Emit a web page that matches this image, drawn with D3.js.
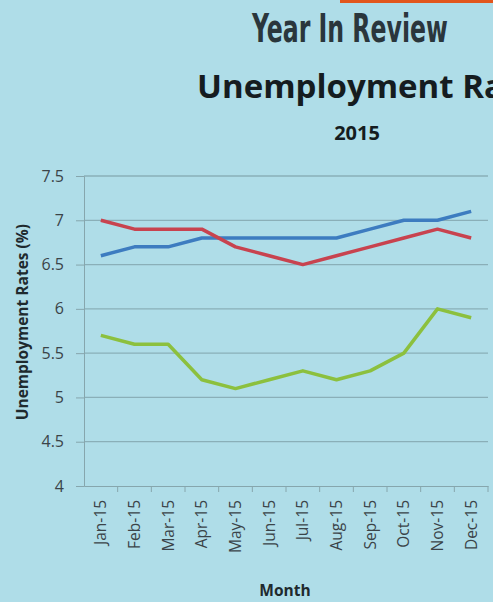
<!DOCTYPE html>
<html>
<head>
<meta charset="utf-8">
<script src="https://cdn.jsdelivr.net/npm/d3@7"></script>
<style>
  html, body { margin: 0; padding: 0; background: #afdde8; overflow: hidden; }
  svg { display: block; }
  .grid line { stroke: #8aafb8; stroke-width: 1.3; }
  .axis path, .axis line { stroke: #86a6ad; }
  .axis text { fill: #3b4448; font-family: "Open Sans", Lato, sans-serif; }
</style>
</head>
<body>
<div id="chart"></div>
<script>
'use strict';

const months = ['Jan-15', 'Feb-15', 'Mar-15', 'Apr-15', 'May-15', 'Jun-15',
  'Jul-15', 'Aug-15', 'Sep-15', 'Oct-15', 'Nov-15', 'Dec-15'];
const redSeries = [7.0, 6.9, 6.9, 6.9, 6.7, 6.6, 6.5, 6.6, 6.7, 6.8, 6.9, 6.8];
const blueSeries = [6.6, 6.7, 6.7, 6.8, 6.8, 6.8, 6.8, 6.8, 6.9, 7.0, 7.0, 7.1];
const greenSeries = [5.7, 5.6, 5.6, 5.2, 5.1, 5.2, 5.3, 5.2, 5.3, 5.5, 6.0, 5.9];
const yTicks = [4, 4.5, 5, 5.5, 6, 6.5, 7, 7.5];

const width = 493;
const height = 602;
const margin = {top: 176, right: 5, bottom: 116, left: 84};
const plotW = width - margin.left - margin.right;
const plotH = height - margin.top - margin.bottom;

const svg = d3.select('#chart').append('svg')
  .attr('width', width)
  .attr('height', height);

svg.append('rect')
  .attr('width', width).attr('height', height)
  .attr('fill', '#afdde8');

// orange accent strip at the very top
svg.append('rect')
  .attr('x', 340).attr('y', 0)
  .attr('width', width - 340).attr('height', 3)
  .attr('fill', '#e2561d');

// condensed headline: squeeze a narrow font horizontally to the slide's width
const kicker = svg.append('text')
  .style('font-family', '"Liberation Sans Narrow", "DejaVu Sans Condensed", sans-serif')
  .style('font-weight', 'bold')
  .style('font-size', '39px')
  .style('fill', '#2a363c')
  .text('Year In Review');
const kickerScale = 196 / kicker.node().getComputedTextLength();
kicker.attr('transform', 'translate(252,42) scale(' + kickerScale + ',1)');

// the heading runs off the right edge, as in the source slide
svg.append('text')
  .attr('x', 197).attr('y', 98)
  .style('font-family', '"Open Sans", Lato, sans-serif')
  .style('font-weight', 'bold')
  .style('font-size', '33px')
  .style('fill', '#151c20')
  .text('Unemployment Rates');

svg.append('text')
  .attr('x', 357).attr('y', 140)
  .style('font-family', '"Open Sans", Lato, sans-serif')
  .style('font-weight', 'bold')
  .style('font-size', '20px')
  .style('text-anchor', 'middle')
  .style('fill', '#151c20')
  .text('2015');

const g = svg.append('g')
  .attr('transform', 'translate(' + margin.left + ',' + margin.top + ')');

const xScale = d3.scaleBand()
  .domain(months)
  .range([0, plotW]);

const yScale = d3.scaleLinear()
  .domain([4, 7.5])
  .range([plotH, 0]);

g.append('g')
  .attr('class', 'grid')
  .selectAll('line')
  .data(yTicks.filter(d => d > 4))
  .enter()
  .append('line')
  .attr('x1', 0)
  .attr('x2', plotW)
  .attr('y1', d => yScale(d))
  .attr('y2', d => yScale(d));

const yAxis = d3.axisLeft(yScale)
  .tickValues(yTicks)
  .tickFormat(d3.format('~g'))
  .tickSize(8)
  .tickPadding(12);

g.append('g')
  .attr('class', 'axis')
  .call(yAxis)
  .call(s => s.selectAll('text').style('font-size', '16px'));

const xAxis = d3.axisBottom(xScale)
  .tickSize(0);

const xAxisG = g.append('g')
  .attr('class', 'axis')
  .attr('transform', 'translate(0,' + plotH + ')')
  .call(xAxis);

// tick marks sit on the band boundaries
xAxisG.selectAll('.boundary')
  .data(months)
  .enter()
  .append('line')
  .attr('class', 'boundary')
  .attr('x1', d => xScale(d) + xScale.step())
  .attr('x2', d => xScale(d) + xScale.step())
  .attr('y1', 0)
  .attr('y2', 6);

xAxisG.selectAll('.tick text')
  .style('font-size', '15.5px')
  .style('text-anchor', 'end')
  .attr('transform', 'rotate(-90)')
  .attr('x', -14)
  .attr('y', 0)
  .attr('dy', '0.35em');

const line = d3.line()
  .x((d, i) => xScale(months[i]) + xScale.bandwidth() / 2)
  .y(d => yScale(d));

const series = [
  {values: blueSeries, colour: '#3d7cc0'},
  {values: redSeries, colour: '#c8434f'},
  {values: greenSeries, colour: '#8cc03e'}
];

g.selectAll('.series')
  .data(series)
  .enter()
  .append('path')
  .attr('class', 'series')
  .attr('fill', 'none')
  .attr('stroke', d => d.colour)
  .attr('stroke-width', 3.5)
  .attr('stroke-linejoin', 'round')
  .attr('d', d => line(d.values));

g.append('text')
  .attr('transform', 'rotate(-90)')
  .attr('x', -(yScale(5.85)))
  .attr('y', -56)
  .style('font-family', '"Open Sans", Lato, sans-serif')
  .style('font-weight', 'bold')
  .style('font-size', '15.5px')
  .style('text-anchor', 'middle')
  .style('fill', '#1f2a2e')
  .text('Unemployment Rates (%)');

g.append('text')
  .attr('x', plotW / 2 - 1)
  .attr('y', plotH + 110)
  .style('font-family', '"Open Sans", Lato, sans-serif')
  .style('font-weight', 'bold')
  .style('font-size', '15.5px')
  .style('text-anchor', 'middle')
  .style('fill', '#1f2a2e')
  .text('Month');
</script>
</body>
</html>
